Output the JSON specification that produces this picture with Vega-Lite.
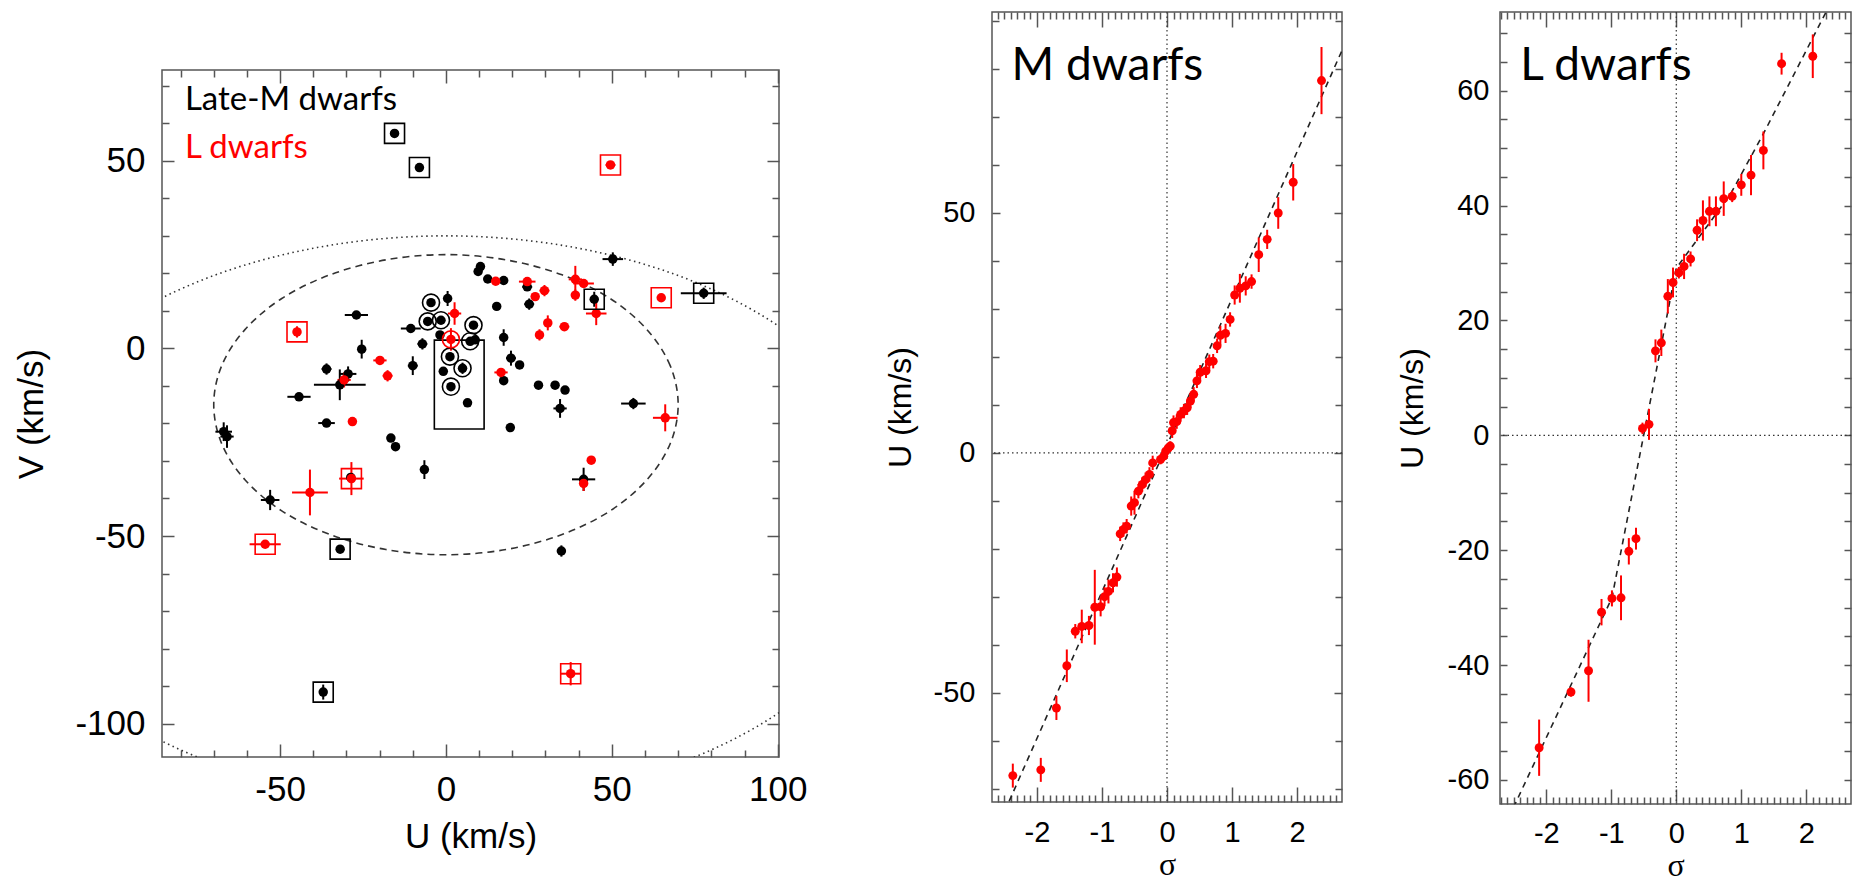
{
"$schema":"https://vega.github.io/schema/vega-lite/v6.json",
"padding":{"left":14,"top":10,"right":0,"bottom":0},
"config":{"view":{"stroke":"#555","strokeWidth":1.5},"axis":{"labelFont":"Liberation Sans","titleFont":"Liberation Sans","titleFontWeight":"normal","labelColor":"black","titleColor":"black","tickColor":"#555","tickWidth":1.5,"domain":false,"grid":false,"labelFlush":false,"labelOverlap":false,"labelExpr":"datum.value + ''"}},
"datasets":{
"uv":[
{"t":"M","U":-15.5,"V":57.3,"eU":0.5,"eV":0.5,"m":"b"},
{"t":"M","U":-8.0,"V":48.2,"eU":0.5,"eV":0.5,"m":"b"},
{"t":"M","U":50.3,"V":23.8,"eU":3.1,"eV":1.8,"m":""},
{"t":"M","U":77.7,"V":14.7,"eU":6.9,"eV":1.5,"m":"b"},
{"t":"M","U":44.7,"V":13.1,"eU":1,"eV":2,"m":"b"},
{"t":"M","U":24.5,"V":16.4,"eU":1.5,"eV":1,"m":""},
{"t":"M","U":25.1,"V":11.8,"eU":1.5,"eV":1.5,"m":""},
{"t":"M","U":15.3,"V":11.2,"eU":1,"eV":1,"m":""},
{"t":"M","U":10.4,"V":21.8,"eU":1,"eV":1,"m":""},
{"t":"M","U":9.7,"V":20.5,"eU":1,"eV":1,"m":""},
{"t":"M","U":12.6,"V":18.5,"eU":1,"eV":1,"m":""},
{"t":"M","U":17.4,"V":18.1,"eU":1,"eV":1,"m":""},
{"t":"M","U":17.4,"V":2.9,"eU":1,"eV":2.2,"m":""},
{"t":"M","U":19.6,"V":-2.6,"eU":1.5,"eV":2,"m":""},
{"t":"M","U":22.2,"V":-4.4,"eU":1,"eV":1,"m":""},
{"t":"M","U":17.4,"V":-8.6,"eU":1,"eV":1,"m":""},
{"t":"M","U":27.9,"V":-9.8,"eU":0.5,"eV":0.5,"m":""},
{"t":"M","U":32.9,"V":-9.8,"eU":0.5,"eV":0.5,"m":""},
{"t":"M","U":35.9,"V":-11.1,"eU":0.5,"eV":0.5,"m":""},
{"t":"M","U":34.4,"V":-16.0,"eU":2,"eV":2.5,"m":""},
{"t":"M","U":56.5,"V":-14.7,"eU":3.7,"eV":1.5,"m":""},
{"t":"M","U":19.4,"V":-21.1,"eU":0.5,"eV":0.5,"m":""},
{"t":"M","U":6.5,"V":-14.5,"eU":0.5,"eV":0.5,"m":""},
{"t":"M","U":1.5,"V":-10.2,"eU":0.5,"eV":1,"m":"c"},
{"t":"M","U":5.0,"V":-5.3,"eU":0.5,"eV":1.5,"m":"c"},
{"t":"M","U":-0.8,"V":-6.1,"eU":0.5,"eV":0.5,"m":""},
{"t":"M","U":1.2,"V":-2.2,"eU":0.5,"eV":1,"m":"c"},
{"t":"M","U":-1.8,"V":3.6,"eU":0.5,"eV":0.5,"m":""},
{"t":"M","U":7.3,"V":1.9,"eU":0.5,"eV":1,"m":"c"},
{"t":"M","U":8.8,"V":2.3,"eU":0.5,"eV":0.5,"m":""},
{"t":"M","U":8.3,"V":6.2,"eU":0.5,"eV":1,"m":"c"},
{"t":"M","U":-1.5,"V":7.5,"eU":0.5,"eV":1,"m":"c"},
{"t":"M","U":-5.5,"V":7.2,"eU":0.5,"eV":1,"m":"c"},
{"t":"M","U":-4.5,"V":12.2,"eU":0.5,"eV":1,"m":"c"},
{"t":"M","U":0.5,"V":13.3,"eU":0.5,"eV":2,"m":""},
{"t":"M","U":-10.6,"V":5.3,"eU":3,"eV":0.5,"m":""},
{"t":"M","U":-7.1,"V":1.2,"eU":1.5,"eV":1.5,"m":""},
{"t":"M","U":-10.0,"V":-4.6,"eU":1.5,"eV":2.5,"m":""},
{"t":"M","U":-27.0,"V":8.9,"eU":3.5,"eV":0.5,"m":""},
{"t":"M","U":-25.4,"V":-0.2,"eU":1,"eV":2.5,"m":""},
{"t":"M","U":-36.0,"V":-5.5,"eU":1.5,"eV":1.5,"m":""},
{"t":"M","U":-29.5,"V":-6.8,"eU":2.5,"eV":2,"m":""},
{"t":"M","U":-32.0,"V":-9.7,"eU":7.8,"eV":4.1,"m":""},
{"t":"M","U":-44.3,"V":-12.9,"eU":3.5,"eV":0.5,"m":""},
{"t":"M","U":-36.0,"V":-19.9,"eU":2.5,"eV":0.5,"m":""},
{"t":"M","U":-67.0,"V":-22.2,"eU":2.5,"eV":2.5,"m":""},
{"t":"M","U":-66.0,"V":-23.5,"eU":2,"eV":3,"m":""},
{"t":"M","U":-16.6,"V":-23.9,"eU":1,"eV":1,"m":""},
{"t":"M","U":-15.2,"V":-26.2,"eU":1,"eV":1,"m":""},
{"t":"M","U":-6.5,"V":-32.3,"eU":0.5,"eV":2.5,"m":""},
{"t":"M","U":41.5,"V":-34.9,"eU":3.5,"eV":3.1,"m":""},
{"t":"M","U":-28.7,"V":-34.4,"eU":1,"eV":1,"m":""},
{"t":"M","U":-53.0,"V":-40.4,"eU":2.8,"eV":2.7,"m":""},
{"t":"M","U":-31.9,"V":-53.5,"eU":0.5,"eV":1,"m":"b"},
{"t":"M","U":34.8,"V":-54.0,"eU":0.5,"eV":1.5,"m":""},
{"t":"M","U":-37.0,"V":-91.6,"eU":0.5,"eV":2,"m":"b"},
{"t":"L","U":49.6,"V":48.9,"eU":1.5,"eV":0.5,"m":"b"},
{"t":"L","U":64.9,"V":13.5,"eU":0.5,"eV":0.5,"m":"b"},
{"t":"L","U":45.3,"V":9.3,"eU":3.1,"eV":3.1,"m":""},
{"t":"L","U":39.0,"V":18.4,"eU":2,"eV":3.6,"m":""},
{"t":"L","U":41.5,"V":17.3,"eU":3.1,"eV":1,"m":""},
{"t":"L","U":39.0,"V":14.2,"eU":1,"eV":1.5,"m":""},
{"t":"L","U":29.7,"V":15.4,"eU":1.5,"eV":1.5,"m":""},
{"t":"L","U":26.9,"V":13.8,"eU":1,"eV":1,"m":""},
{"t":"L","U":24.5,"V":17.8,"eU":2.5,"eV":0.5,"m":""},
{"t":"L","U":30.7,"V":6.8,"eU":1,"eV":2,"m":""},
{"t":"L","U":35.7,"V":5.8,"eU":1.5,"eV":1,"m":""},
{"t":"L","U":28.2,"V":3.6,"eU":1,"eV":1.5,"m":""},
{"t":"L","U":15.0,"V":17.9,"eU":0.5,"eV":0.5,"m":""},
{"t":"L","U":16.6,"V":-6.4,"eU":2,"eV":0.5,"m":""},
{"t":"L","U":66.1,"V":-18.5,"eU":3.7,"eV":3.6,"m":""},
{"t":"L","U":1.5,"V":2.4,"eU":1,"eV":3,"m":"c"},
{"t":"L","U":2.6,"V":9.3,"eU":2,"eV":3,"m":""},
{"t":"L","U":-19.9,"V":-3.2,"eU":2,"eV":1,"m":""},
{"t":"L","U":-17.6,"V":-7.3,"eU":1.5,"eV":1.5,"m":""},
{"t":"L","U":-30.7,"V":-8.4,"eU":2,"eV":2,"m":""},
{"t":"L","U":-44.9,"V":4.4,"eU":0.5,"eV":1.5,"m":"b"},
{"t":"L","U":-28.2,"V":-19.5,"eU":0.5,"eV":0.5,"m":""},
{"t":"L","U":43.8,"V":-29.8,"eU":0.5,"eV":0.5,"m":""},
{"t":"L","U":41.5,"V":-36.0,"eU":0.5,"eV":2,"m":""},
{"t":"L","U":-28.5,"V":-34.7,"eU":3.7,"eV":4.4,"m":"b"},
{"t":"L","U":-41.0,"V":-38.4,"eU":5.4,"eV":6.1,"m":""},
{"t":"L","U":-54.5,"V":-52.2,"eU":4.7,"eV":1,"m":"b"},
{"t":"L","U":37.6,"V":-86.7,"eU":3.1,"eV":3.1,"m":"b"}
],
"e1":[
{"i":0,"U":70,"V":-15},{"i":1,"U":67.6,"V":-4.6},{"i":2,"U":60.6,"V":5},{"i":3,"U":49.5,"V":13.3},{"i":4,"U":35,"V":19.6},{"i":5,"U":18.1,"V":23.6},{"i":6,"U":0,"V":25},{"i":7,"U":-18.1,"V":23.6},{"i":8,"U":-35,"V":19.6},{"i":9,"U":-49.5,"V":13.3},{"i":10,"U":-60.6,"V":5},{"i":11,"U":-67.6,"V":-4.6},{"i":12,"U":-70,"V":-15},{"i":13,"U":-67.6,"V":-25.4},{"i":14,"U":-60.6,"V":-35},{"i":15,"U":-49.5,"V":-43.3},{"i":16,"U":-35,"V":-49.6},{"i":17,"U":-18.1,"V":-53.6},{"i":18,"U":0,"V":-55},{"i":19,"U":18.1,"V":-53.6},{"i":20,"U":35,"V":-49.6},{"i":21,"U":49.5,"V":-43.3},{"i":22,"U":60.6,"V":-35},{"i":23,"U":67.6,"V":-25.4}
],
"e2":[
{"i":0,"U":137,"V":-45.6},{"i":1,"U":132.3,"V":-26.0},{"i":2,"U":118.6,"V":-7.8},{"i":3,"U":96.9,"V":7.9},{"i":4,"U":68.5,"V":19.9},{"i":5,"U":35.5,"V":27.4},{"i":6,"U":0,"V":30},{"i":7,"U":-35.5,"V":27.4},{"i":8,"U":-68.5,"V":19.9},{"i":9,"U":-96.9,"V":7.9},{"i":10,"U":-118.6,"V":-7.8},{"i":11,"U":-132.3,"V":-26.0},{"i":12,"U":-137,"V":-45.6},{"i":13,"U":-132.3,"V":-65.2},{"i":14,"U":-118.6,"V":-83.4},{"i":15,"U":-96.9,"V":-99.1},{"i":16,"U":-68.5,"V":-111.1},{"i":17,"U":-35.5,"V":-118.6},{"i":18,"U":0,"V":-121.2},{"i":19,"U":35.5,"V":-118.6},{"i":20,"U":68.5,"V":-111.1},{"i":21,"U":96.9,"V":-99.1},{"i":22,"U":118.6,"V":-83.4},{"i":23,"U":132.3,"V":-65.2}
],
"md":[
{"s":2.375,"U":77.6,"e":7},{"s":1.94,"U":56.4,"e":3.8},{"s":1.71,"U":50.0,"e":3.3},{"s":1.54,"U":44.5,"e":2},{"s":1.41,"U":41.3,"e":3.6},{"s":1.30,"U":35.7,"e":1.5},{"s":1.21,"U":34.8,"e":2},{"s":1.12,"U":34.3,"e":3},{"s":1.04,"U":32.9,"e":2},{"s":0.97,"U":27.8,"e":1.5},{"s":0.90,"U":24.9,"e":2},{"s":0.82,"U":24.5,"e":2},{"s":0.77,"U":22.3,"e":1.5},{"s":0.71,"U":19.1,"e":1.5},{"s":0.65,"U":19.0,"e":1.5},{"s":0.60,"U":17.1,"e":1.5},{"s":0.51,"U":16.8,"e":1.5},{"s":0.46,"U":15.0,"e":1.5},{"s":0.41,"U":12.2,"e":1.5},{"s":0.36,"U":10.8,"e":1.5},{"s":0.31,"U":9.4,"e":1.5},{"s":0.26,"U":8.7,"e":1.5},{"s":0.21,"U":8.0,"e":1.5},{"s":0.15,"U":6.5,"e":1.5},{"s":0.10,"U":6.3,"e":1.5},{"s":0.08,"U":4.6,"e":1.5},{"s":0.05,"U":1.4,"e":1},{"s":0.02,"U":1.0,"e":1},{"s":-0.02,"U":0.35,"e":1},{"s":-0.05,"U":-0.7,"e":1},{"s":-0.10,"U":-1.4,"e":1},{"s":-0.22,"U":-2.1,"e":1.5},{"s":-0.27,"U":-4.5,"e":1.5},{"s":-0.33,"U":-5.6,"e":1.5},{"s":-0.38,"U":-6.6,"e":1.5},{"s":-0.44,"U":-8.0,"e":1.5},{"s":-0.50,"U":-10.4,"e":2.5},{"s":-0.55,"U":-11.1,"e":2},{"s":-0.62,"U":-15.3,"e":1.5},{"s":-0.67,"U":-16.0,"e":1.5},{"s":-0.72,"U":-16.9,"e":1.5},{"s":-0.77,"U":-25.9,"e":2},{"s":-0.83,"U":-27.1,"e":2},{"s":-0.90,"U":-28.9,"e":2.5},{"s":-0.96,"U":-30.0,"e":2},{"s":-1.02,"U":-32.1,"e":2},{"s":-1.11,"U":-32.2,"e":7.8},{"s":-1.20,"U":-36.0,"e":2},{"s":-1.31,"U":-36.2,"e":3.5},{"s":-1.41,"U":-37.2,"e":1.5},{"s":-1.54,"U":-44.4,"e":3.4},{"s":-1.70,"U":-53.2,"e":2.5},{"s":-1.94,"U":-66.1,"e":2.5},{"s":-2.37,"U":-67.3,"e":2.5}
],
"ld":[
{"s":2.10,"U":66.0,"e":3.8},{"s":1.62,"U":64.7,"e":1.9},{"s":1.34,"U":49.6,"e":3.3},{"s":1.15,"U":45.3,"e":3.5},{"s":1.00,"U":43.6,"e":1.9},{"s":0.86,"U":41.6,"e":1},{"s":0.73,"U":41.2,"e":3},{"s":0.61,"U":39.0,"e":2.6},{"s":0.51,"U":39.0,"e":2.6},{"s":0.41,"U":37.4,"e":3.5},{"s":0.32,"U":35.7,"e":1.9},{"s":0.22,"U":30.7,"e":1.3},{"s":0.12,"U":29.4,"e":2.2},{"s":0.04,"U":28.3,"e":1},{"s":-0.05,"U":26.6,"e":2.6},{"s":-0.13,"U":24.2,"e":3},{"s":-0.23,"U":16.1,"e":2.3},{"s":-0.32,"U":14.7,"e":2},{"s":-0.42,"U":1.9,"e":2.7},{"s":-0.52,"U":1.2,"e":1},{"s":-0.62,"U":-18.0,"e":1.9},{"s":-0.73,"U":-20.2,"e":2.3},{"s":-0.85,"U":-28.3,"e":3.9},{"s":-0.99,"U":-28.4,"e":1.4},{"s":-1.15,"U":-30.8,"e":2.3},{"s":-1.35,"U":-41.0,"e":5.4},{"s":-1.62,"U":-44.7,"e":0.8},{"s":-2.11,"U":-54.4,"e":4.9}
],
"fitM":[{"s":-2.7,"U":-81.0},{"s":2.7,"U":84.2}],
"fitL":[{"s":-2.72,"U":-70.0},{"s":-0.99,"U":-28.3},{"s":0,"U":29.1},{"s":0.83,"U":41.9},{"s":1.345,"U":52.6},{"s":2.7,"U":82.4}]
},
"hconcat":[
{
"spacing":0,
"vconcat":[
{"width":10,"height":56,"data":{"values":[{}]},"mark":{"type":"point","opacity":0},"view":{"stroke":null}},
{
"width":617,"height":687,
"layer":[
{"data":{"name":"e2"},"mark":{"type":"line","interpolate":"cardinal-closed","clip":true,"color":"#333","strokeWidth":1.6,"strokeDash":[1.5,3.5]},
 "encoding":{"x":{"field":"U","type":"quantitative","scale":{"domain":[-85.6,100.4],"nice":false,"zero":false},"axis":null},"y":{"field":"V","type":"quantitative","scale":{"domain":[-108.9,74.2],"nice":false,"zero":false},"axis":null},"order":{"field":"i"}}},
{"data":{"name":"e1"},"mark":{"type":"line","interpolate":"cardinal-closed","clip":true,"color":"#333","strokeWidth":1.6,"strokeDash":[7,5]},
 "encoding":{"x":{"field":"U","type":"quantitative","axis":null},"y":{"field":"V","type":"quantitative","axis":null},"order":{"field":"i"}}},
{"data":{"values":[{"U1":-3.5,"U2":11.5,"V1":-21.5,"V2":2.2}]},"mark":{"type":"rect","fillOpacity":0,"stroke":"black","strokeWidth":1.6},
 "encoding":{"x":{"field":"U1","type":"quantitative","axis":null},"x2":{"field":"U2"},"y":{"field":"V1","type":"quantitative","axis":null},"y2":{"field":"V2"}}},
{"data":{"name":"uv"},"mark":{"type":"errorbar","thickness":2},
 "encoding":{"x":{"field":"U","type":"quantitative","axis":null},"xError":{"field":"eU"},"y":{"field":"V","type":"quantitative","axis":null},"color":{"field":"t","type":"nominal","scale":{"domain":["M","L"],"range":["black","#ff0000"]},"legend":null}}},
{"data":{"name":"uv"},"mark":{"type":"errorbar","thickness":2},
 "encoding":{"y":{"field":"V","type":"quantitative","axis":null},"yError":{"field":"eV"},"x":{"field":"U","type":"quantitative","axis":null},"color":{"field":"t","type":"nominal","legend":null}}},
{"data":{"name":"uv"},"mark":{"type":"circle","size":90,"opacity":1},
 "encoding":{
  "x":{"field":"U","type":"quantitative","axis":{"orient":"bottom","values":[-50,0,50,100],"tickSize":-13,"labelPadding":28,"labelFontSize":35,"title":"U (km/s)","titleFontSize":35,"titlePadding":12}},
  "y":{"field":"V","type":"quantitative","axis":{"orient":"left","values":[-100,-50,0,50],"tickSize":-12,"labelPadding":29,"labelFontSize":35,"title":"V (km/s)","titleFontSize":35,"titlePadding":25}},
  "color":{"field":"t","type":"nominal","legend":null}}},
{"data":{"name":"uv"},"transform":[{"filter":"datum.m == 'b'"}],"mark":{"type":"point","shape":"square","size":400,"filled":false,"strokeWidth":1.6,"opacity":1},
 "encoding":{"x":{"field":"U","type":"quantitative","axis":null},"y":{"field":"V","type":"quantitative","axis":null},"color":{"field":"t","type":"nominal","legend":null}}},
{"data":{"name":"uv"},"transform":[{"filter":"datum.m == 'c'"}],"mark":{"type":"point","shape":"circle","size":290,"filled":false,"strokeWidth":1.6,"opacity":1},
 "encoding":{"x":{"field":"U","type":"quantitative","axis":null},"y":{"field":"V","type":"quantitative","axis":null},"color":{"field":"t","type":"nominal","legend":null}}},
{"data":{"values":[{"U":-78.7,"V":63.5,"t":"M","txt":"Late-M dwarfs"},{"U":-78.7,"V":50.7,"t":"L","txt":"L dwarfs"}]},"mark":{"type":"text","font":"Lato","fontSize":33,"align":"left","baseline":"alphabetic"},
 "encoding":{"x":{"field":"U","type":"quantitative","axis":null},"y":{"field":"V","type":"quantitative","axis":null},"text":{"field":"txt"},"color":{"field":"t","type":"nominal","legend":null}}},
{"data":{"name":"uv"},"mark":{"type":"point","opacity":0},
 "encoding":{"x":{"field":"U","type":"quantitative","axis":{"orient":"bottom","values":[-80,-70,-60,-40,-30,-20,-10,10,20,30,40,60,70,80,90],"tickSize":-7,"labels":false,"title":null}},
  "y":{"field":"V","type":"quantitative","axis":{"orient":"left","values":[-90,-80,-70,-60,-40,-30,-20,-10,10,20,30,40,60,70],"tickSize":-7,"labels":false,"title":null}}}},
{"data":{"name":"uv"},"mark":{"type":"point","opacity":0},
 "encoding":{"x":{"field":"U","type":"quantitative","axis":{"orient":"top","values":[-50,0,50,100],"tickSize":-13,"labels":false,"title":null}},
  "y":{"field":"V","type":"quantitative","axis":{"orient":"right","values":[-100,-50,0,50],"tickSize":-12,"labels":false,"title":null}}}},
{"data":{"name":"uv"},"mark":{"type":"point","opacity":0},
 "encoding":{"x":{"field":"U","type":"quantitative","axis":{"orient":"top","values":[-80,-70,-60,-40,-30,-20,-10,10,20,30,40,60,70,80,90],"tickSize":-7,"labels":false,"title":null}},
  "y":{"field":"V","type":"quantitative","axis":{"orient":"right","values":[-90,-80,-70,-60,-40,-30,-20,-10,10,20,30,40,60,70],"tickSize":-7,"labels":false,"title":null}}}}
],
"resolve":{"axis":{"x":"independent","y":"independent"}}
}
]
},
{
"spacing":51,
"hconcat":[
{
"width":350,"height":790,
"layer":[
{"data":{"values":[{}]},"mark":{"type":"rule","color":"#333","strokeWidth":1.2,"strokeDash":[1.5,3]},"encoding":{"x":{"datum":0,"type":"quantitative","scale":{"domain":[-2.69,2.69],"nice":false,"zero":false},"axis":null}}},
{"data":{"values":[{}]},"mark":{"type":"rule","color":"#333","strokeWidth":1.2,"strokeDash":[1.5,3]},"encoding":{"y":{"datum":0,"type":"quantitative","scale":{"domain":[-72.8,91.9],"nice":false,"zero":false},"axis":null}}},
{"data":{"name":"fitM"},"mark":{"type":"line","clip":true,"color":"#222","strokeWidth":1.6,"strokeDash":[6,5]},"encoding":{"x":{"field":"s","type":"quantitative","axis":null},"y":{"field":"U","type":"quantitative","axis":null}}},
{"data":{"name":"md"},"mark":{"type":"errorbar","thickness":2},"encoding":{"x":{"field":"s","type":"quantitative","axis":null},"y":{"field":"U","type":"quantitative","axis":null},"yError":{"field":"e"},"color":{"value":"#ff0000"}}},
{"data":{"name":"md"},"mark":{"type":"circle","size":80,"opacity":1,"color":"#ff0000"},
 "encoding":{"x":{"field":"s","type":"quantitative","axis":{"orient":"bottom","values":[-2,-1,0,1,2],"tickSize":-15,"labelPadding":31,"labelFontSize":29,"title":"σ","titleFont":"Liberation Serif","titleFontSize":32,"titlePadding":2}},
  "y":{"field":"U","type":"quantitative","axis":{"orient":"left","values":[-50,0,50],"tickSize":-8,"labelPadding":25,"labelFontSize":29,"title":"U (km/s)","titleFontSize":32,"titlePadding":16}}}},
{"data":{"values":[{"s":-2.39,"U":77.7,"txt":"M dwarfs"}]},"mark":{"type":"text","font":"Lato","fontSize":46,"align":"left","baseline":"alphabetic","color":"black"},"encoding":{"x":{"field":"s","type":"quantitative","axis":null},"y":{"field":"U","type":"quantitative","axis":null},"text":{"field":"txt"}}},
{"data":{"name":"md"},"mark":{"type":"point","opacity":0},
 "encoding":{"x":{"field":"s","type":"quantitative","axis":{"orient":"bottom","values":[-2.6,-2.5,-2.4,-2.3,-2.2,-2.1,-1.9,-1.8,-1.7,-1.6,-1.5,-1.4,-1.3,-1.2,-1.1,-0.9,-0.8,-0.7,-0.6,-0.5,-0.4,-0.3,-0.2,-0.1,0.1,0.2,0.3,0.4,0.5,0.6,0.7,0.8,0.9,1.1,1.2,1.3,1.4,1.5,1.6,1.7,1.8,1.9,2.1,2.2,2.3,2.4,2.5,2.6],"tickSize":-7,"labels":false,"title":null}},
  "y":{"field":"U","type":"quantitative","axis":{"orient":"left","values":[-70,-60,-40,-30,-20,-10,10,20,30,40,60,70,80,90],"tickSize":-7,"labels":false,"title":null}}}},
{"data":{"name":"md"},"mark":{"type":"point","opacity":0},
 "encoding":{"x":{"field":"s","type":"quantitative","axis":{"orient":"top","values":[-2,-1,0,1,2],"tickSize":-15,"labels":false,"title":null}},
  "y":{"field":"U","type":"quantitative","axis":{"orient":"right","values":[-50,0,50],"tickSize":-8,"labels":false,"title":null}}}},
{"data":{"name":"md"},"mark":{"type":"point","opacity":0},
 "encoding":{"x":{"field":"s","type":"quantitative","axis":{"orient":"top","values":[-2.6,-2.5,-2.4,-2.3,-2.2,-2.1,-1.9,-1.8,-1.7,-1.6,-1.5,-1.4,-1.3,-1.2,-1.1,-0.9,-0.8,-0.7,-0.6,-0.5,-0.4,-0.3,-0.2,-0.1,0.1,0.2,0.3,0.4,0.5,0.6,0.7,0.8,0.9,1.1,1.2,1.3,1.4,1.5,1.6,1.7,1.8,1.9,2.1,2.2,2.3,2.4,2.5,2.6],"tickSize":-7,"labels":false,"title":null}},
  "y":{"field":"U","type":"quantitative","axis":{"orient":"right","values":[-70,-60,-40,-30,-20,-10,10,20,30,40,60,70,80,90],"tickSize":-7,"labels":false,"title":null}}}}
],
"resolve":{"axis":{"x":"independent","y":"independent"}}
},
{
"width":351,"height":792,
"layer":[
{"data":{"values":[{}]},"mark":{"type":"rule","color":"#333","strokeWidth":1.2,"strokeDash":[1.5,3]},"encoding":{"x":{"datum":0,"type":"quantitative","scale":{"domain":[-2.712,2.688],"nice":false,"zero":false},"axis":null}}},
{"data":{"values":[{}]},"mark":{"type":"rule","color":"#333","strokeWidth":1.2,"strokeDash":[1.5,3]},"encoding":{"y":{"datum":0,"type":"quantitative","scale":{"domain":[-64.2,73.7],"nice":false,"zero":false},"axis":null}}},
{"data":{"name":"fitL"},"mark":{"type":"line","clip":true,"color":"#222","strokeWidth":1.6,"strokeDash":[6,5]},"encoding":{"x":{"field":"s","type":"quantitative","axis":null},"y":{"field":"U","type":"quantitative","axis":null}}},
{"data":{"name":"ld"},"mark":{"type":"errorbar","thickness":2},"encoding":{"x":{"field":"s","type":"quantitative","axis":null},"y":{"field":"U","type":"quantitative","axis":null},"yError":{"field":"e"},"color":{"value":"#ff0000"}}},
{"data":{"name":"ld"},"mark":{"type":"circle","size":80,"opacity":1,"color":"#ff0000"},
 "encoding":{"x":{"field":"s","type":"quantitative","axis":{"orient":"bottom","values":[-2,-1,0,1,2],"tickSize":-15,"labelPadding":30,"labelFontSize":29,"title":"σ","titleFont":"Liberation Serif","titleFontSize":32,"titlePadding":2}},
  "y":{"field":"U","type":"quantitative","axis":{"orient":"left","values":[-60,-40,-20,0,20,40,60],"tickSize":-7,"labelPadding":18,"labelFontSize":29,"title":"U (km/s)","titleFontSize":32,"titlePadding":18}}}},
{"data":{"values":[{"s":-2.4,"U":61.8,"txt":"L dwarfs"}]},"mark":{"type":"text","font":"Lato","fontSize":46,"align":"left","baseline":"alphabetic","color":"black"},"encoding":{"x":{"field":"s","type":"quantitative","axis":null},"y":{"field":"U","type":"quantitative","axis":null},"text":{"field":"txt"}}},
{"data":{"name":"ld"},"mark":{"type":"point","opacity":0},
 "encoding":{"x":{"field":"s","type":"quantitative","axis":{"orient":"bottom","values":[-2.7,-2.6,-2.5,-2.4,-2.3,-2.2,-2.1,-1.9,-1.8,-1.7,-1.6,-1.5,-1.4,-1.3,-1.2,-1.1,-0.9,-0.8,-0.7,-0.6,-0.5,-0.4,-0.3,-0.2,-0.1,0.1,0.2,0.3,0.4,0.5,0.6,0.7,0.8,0.9,1.1,1.2,1.3,1.4,1.5,1.6,1.7,1.8,1.9,2.1,2.2,2.3,2.4,2.5,2.6],"tickSize":-7,"labels":false,"title":null}},
  "y":{"field":"U","type":"quantitative","axis":{"orient":"left","values":[-55,-50,-45,-35,-30,-25,-15,-10,-5,5,10,15,25,30,35,45,50,55,65,70],"tickSize":-7,"labels":false,"title":null}}}},
{"data":{"name":"ld"},"mark":{"type":"point","opacity":0},
 "encoding":{"x":{"field":"s","type":"quantitative","axis":{"orient":"top","values":[-2,-1,0,1,2],"tickSize":-15,"labels":false,"title":null}},
  "y":{"field":"U","type":"quantitative","axis":{"orient":"right","values":[-60,-40,-20,0,20,40,60],"tickSize":-7,"labels":false,"title":null}}}},
{"data":{"name":"ld"},"mark":{"type":"point","opacity":0},
 "encoding":{"x":{"field":"s","type":"quantitative","axis":{"orient":"top","values":[-2.7,-2.6,-2.5,-2.4,-2.3,-2.2,-2.1,-1.9,-1.8,-1.7,-1.6,-1.5,-1.4,-1.3,-1.2,-1.1,-0.9,-0.8,-0.7,-0.6,-0.5,-0.4,-0.3,-0.2,-0.1,0.1,0.2,0.3,0.4,0.5,0.6,0.7,0.8,0.9,1.1,1.2,1.3,1.4,1.5,1.6,1.7,1.8,1.9,2.1,2.2,2.3,2.4,2.5,2.6],"tickSize":-7,"labels":false,"title":null}},
  "y":{"field":"U","type":"quantitative","axis":{"orient":"right","values":[-55,-50,-45,-35,-30,-25,-15,-10,-5,5,10,15,25,30,35,45,50,55,65,70],"tickSize":-7,"labels":false,"title":null}}}}
],
"resolve":{"axis":{"x":"independent","y":"independent"}}
}
]
}
],
"spacing":75
}
